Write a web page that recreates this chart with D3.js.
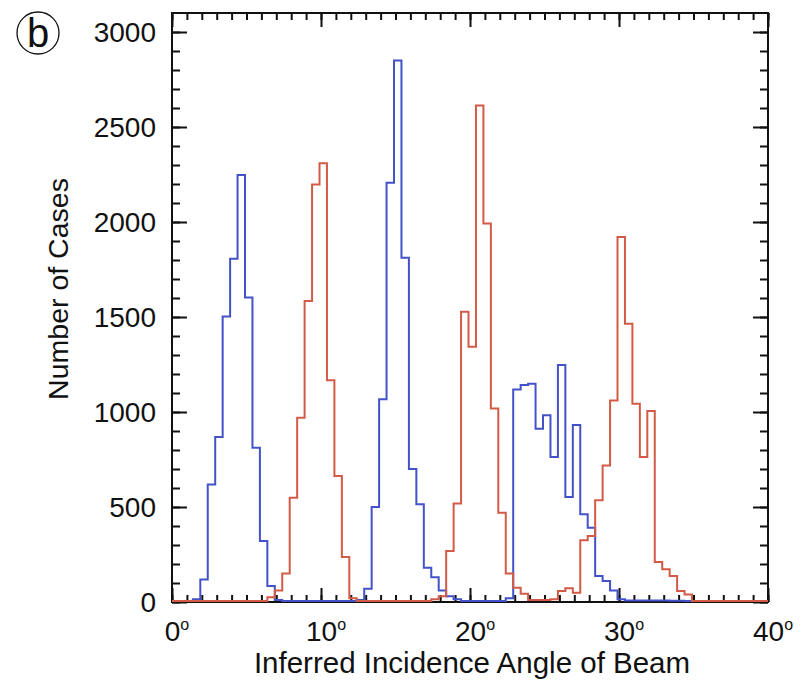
<!DOCTYPE html>
<html>
<head>
<meta charset="utf-8">
<script src="https://cdn.jsdelivr.net/npm/d3@7/dist/d3.min.js"></script>
<style>
  html, body { margin: 0; padding: 0; background: #fff; }
  svg { display: block; }
  text { font-family: "Liberation Sans", Arial, Helvetica, sans-serif; fill: #111; }
</style>
</head>
<body>
<svg id="chart" width="802" height="680"></svg>
<script>
(function () {
// ---- data ----
const binWidth = 0.5;                 // degrees per histogram bin
const blueStart = 1.4;                // left edge of first blue bin (deg)
const blueCounts = [15, 119, 619, 868, 1502, 1807, 2247, 1602, 812, 321, 84, 10, 3,
  0, 0, 0, 0, 0, 0, 0, 0, 3, 10, 70, 500, 1067, 2207, 2850, 1812, 700, 515, 180, 130,
  60, 30, 15, 5, 3, 3, 3, 3, 5, 20, 1119, 1142, 1149, 912, 983, 763, 1247, 553, 932,
  462, 391, 137, 110, 60, 15, 8, 8, 8, 8, 8, 8, 6, 6, 5];
const redStart = 5.9;                 // left edge of first red bin (deg)
const redCounts = [3, 25, 60, 150, 549, 970, 1584, 2198, 2309, 1167, 663, 237, 20, 5, 3,
  0, 0, 0, 0, 0, 0, 0, 3, 15, 30, 268, 518, 1528, 1343, 2613, 1992, 1019, 470, 150, 75,
  44, 10, 10, 10, 15, 58, 72, 49, 325, 347, 535, 719, 1061, 1921, 1465, 1044, 763, 1005,
  210, 172, 137, 58, 40];
const xMajorTicks = [0, 10, 20, 30, 40];
const xTickLabels = ["0", "10", "20", "30", "40"];
const yMajorTicks = [0, 500, 1000, 1500, 2000, 2500, 3000];
const yTickLabels = ["0", "500", "1000", "1500", "2000", "2500", "3000"];
const xTitle = "Inferred Incidence Angle of Beam";
const yTitle = "Number of Cases";
const panelLabel = "b";

// ---- layout ----
const L = 172, R = 768, T = 13, B = 602;
const svg = d3.select("#chart");
const x = d3.scaleLinear().domain([0, 40]).range([L, R]);
const y = d3.scaleLinear().domain([0, 3100]).range([B, T]);

// ---- step paths ----
function stepPoints(start, counts) {
  const pts = [[0, 0], [start, 0]];
  counts.forEach((c, i) => {
    const x0 = start + i * binWidth, x1 = x0 + binWidth;
    pts.push([x0, c], [x1, c]);
  });
  const end = start + counts.length * binWidth;
  pts.push([end, 0], [40, 0]);
  return pts;
}
const line = d3.line().x(d => x(d[0])).y(d => Math.min(y(d[1]), B - 1));

const axStroke = "#111";
// frame
svg.append("rect").attr("x", L).attr("y", T).attr("width", R - L).attr("height", B - T)
  .attr("fill", "none").attr("stroke", axStroke).attr("stroke-width", 2);

// ---- axes (ticks inward on all four sides) ----
function addAxis(axisFn, scale, tx, ty, values, size) {
  svg.append("g").attr("transform", `translate(${tx},${ty})`)
    .call(axisFn(scale).tickValues(values).tickSize(size).tickFormat(""));
}
const xMinor = d3.range(0, 41, 1), yMinor = d3.range(0, 3001, 100);
addAxis(d3.axisBottom, x, 0, B, xMinor, -7);
addAxis(d3.axisBottom, x, 0, B, xMajorTicks, -14);
addAxis(d3.axisTop, x, 0, T, xMinor, -7);
addAxis(d3.axisTop, x, 0, T, xMajorTicks, -14);
addAxis(d3.axisLeft, y, L, 0, yMinor, -8);
addAxis(d3.axisLeft, y, L, 0, yMajorTicks, -15);
addAxis(d3.axisRight, y, R, 0, yMinor, -8);
addAxis(d3.axisRight, y, R, 0, yMajorTicks, -15);
svg.selectAll(".domain").remove();
svg.selectAll(".tick line").attr("stroke", axStroke).attr("stroke-width", 2);

const plot = svg.append("g");
plot.append("path").datum(stepPoints(blueStart, blueCounts))
  .attr("d", line).attr("fill", "none").attr("stroke", "#4352c9")
  .attr("stroke-width", 2).attr("stroke-linejoin", "miter");
plot.append("path").datum(stepPoints(redStart, redCounts))
  .attr("d", line).attr("fill", "none").attr("stroke", "#d35a47")
  .attr("stroke-width", 2).attr("stroke-linejoin", "miter");

// x tick labels with raised "o" degree mark
xMajorTicks.forEach((v, i) => {
  const t = svg.append("text").attr("x", x(v) + 5).attr("y", 641)
    .attr("text-anchor", "middle").style("font-size", "28px");
  t.append("tspan").text(xTickLabels[i]);
  t.append("tspan").attr("dy", -11).style("font-size", "16px").text("o");
});

// y tick labels
yMajorTicks.forEach((v, i) => {
  svg.append("text").attr("x", 156).attr("y", y(v)).attr("dy", "0.36em")
    .attr("text-anchor", "end").style("font-size", "28px").text(yTickLabels[i]);
});

// titles
svg.append("text").attr("x", 472).attr("y", 673).attr("text-anchor", "middle")
  .style("font-size", "29.5px").text(xTitle);
svg.append("text").attr("transform", "translate(68,289) rotate(-90)")
  .attr("text-anchor", "middle").style("font-size", "28.5px").text(yTitle);

// panel label
svg.append("circle").attr("cx", 38).attr("cy", 33).attr("r", 21)
  .attr("fill", "none").attr("stroke", "#111").attr("stroke-width", 1.3);
svg.append("text").attr("x", 38).attr("y", 47).attr("text-anchor", "middle")
  .style("font-size", "40px").text(panelLabel);
})();
</script>
</body>
</html>
